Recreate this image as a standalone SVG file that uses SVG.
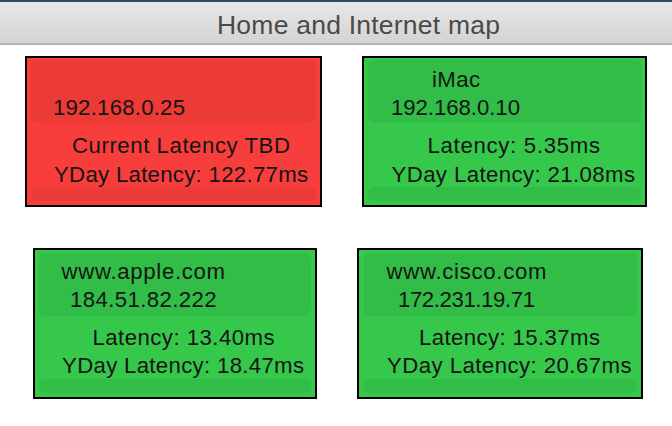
<svg xmlns="http://www.w3.org/2000/svg" width="672" height="426" viewBox="0 0 672 426">
<defs>
<linearGradient id="bar" x1="0" y1="0" x2="0" y2="1">
<stop offset="0" stop-color="#e9e9e9"/>
<stop offset="1" stop-color="#d3d3d3"/>
</linearGradient>
</defs>
<style>
.box{stroke:#000;stroke-width:2}
.red{fill:#f83e3d}
.green{fill:#35c84b}
.pr{fill:#ec3a37}
.pg{fill:#31bd47}
text{font-family:"Liberation Sans",Arial,sans-serif;font-size:22.2px;fill:#151515}
.title{font-size:26.5px;fill:#4a4a4a}
</style>
<rect x="0" y="0" width="672" height="426" fill="#ffffff"/>
<g id="titlebar">
<rect x="0" y="0" width="672" height="44" fill="url(#bar)"/>
<rect x="0" y="0" width="672" height="2" fill="#2d4a6c"/>
<rect x="0" y="43" width="672" height="2" fill="#b3b3b3"/>
<text class="title" x="217" y="34" textLength="283">Home and Internet map</text>
</g>
<g id="connectors"></g>
<g id="node-192-168-0-25">
<rect class="box red" x="26" y="57" width="295" height="149"/>
<rect class="pr" x="31" y="60" width="285" height="63" rx="6"/>
<rect class="pr" x="31" y="187" width="285" height="14" rx="6"/>
<text x="53" y="115" textLength="132">192.168.0.25</text>
<text x="72" y="153" textLength="218">Current Latency TBD</text>
<text x="54" y="181.5" textLength="254">YDay Latency: 122.77ms</text>
</g>
<g id="node-imac">
<rect class="box green" x="363" y="57" width="283" height="149"/>
<rect class="pg" x="368" y="60" width="273" height="63" rx="6"/>
<rect class="pg" x="368" y="187" width="273" height="14" rx="6"/>
<text x="432" y="86.5" textLength="48">iMac</text>
<text x="391" y="115" textLength="129">192.168.0.10</text>
<text x="427.5" y="153" textLength="172.5">Latency: 5.35ms</text>
<text x="391.5" y="181.5" textLength="243.5">YDay Latency: 21.08ms</text>
</g>
<g id="node-apple">
<rect class="box green" x="34" y="249" width="282" height="149"/>
<rect class="pg" x="39" y="253" width="272" height="63" rx="6"/>
<rect class="pg" x="39" y="379" width="272" height="14" rx="6"/>
<text x="61.5" y="279" textLength="163.5">www.apple.com</text>
<text x="70" y="306.5" textLength="146.5">184.51.82.222</text>
<text x="92.5" y="345" textLength="182">Latency: 13.40ms</text>
<text x="62" y="373" textLength="242">YDay Latency: 18.47ms</text>
</g>
<g id="node-cisco">
<rect class="box green" x="358" y="249" width="284" height="149"/>
<rect class="pg" x="364" y="253" width="273" height="63" rx="6"/>
<rect class="pg" x="364" y="379" width="273" height="14" rx="6"/>
<text x="386.5" y="279" textLength="160">www.cisco.com</text>
<text x="398" y="306.5" textLength="137">172.231.19.71</text>
<text x="419" y="345" textLength="181">Latency: 15.37ms</text>
<text x="387" y="373" textLength="244.5">YDay Latency: 20.67ms</text>
</g>
</svg>
